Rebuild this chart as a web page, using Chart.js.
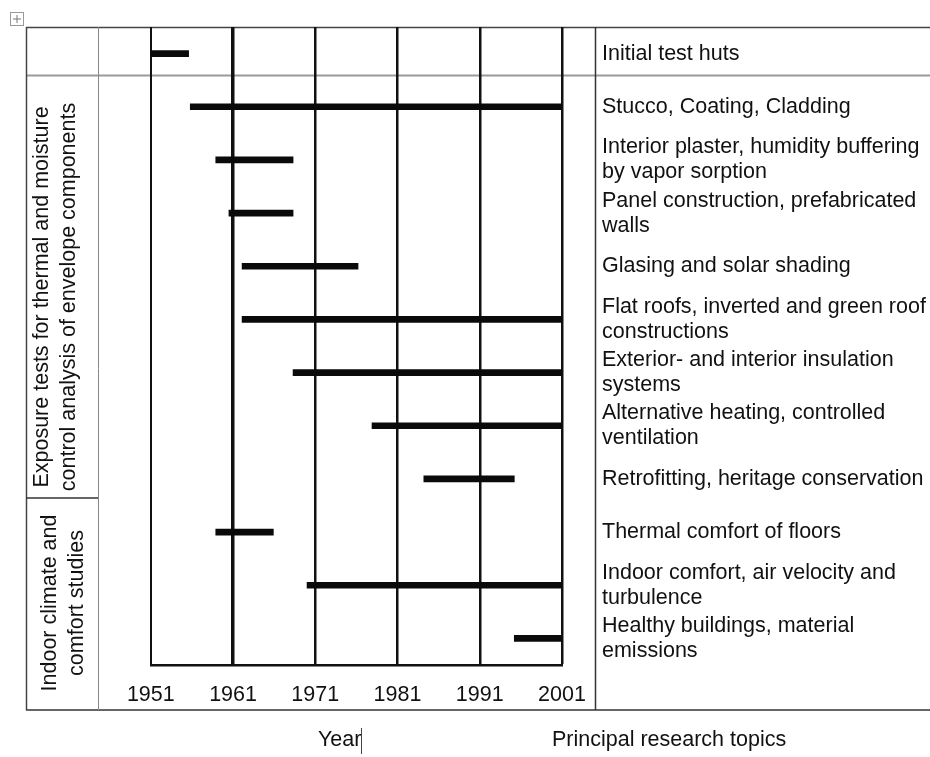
<!DOCTYPE html>
<html lang="en">

<head>
    <meta charset="UTF-8">
    <title>Research topics timeline</title>
    <!-- Chart.js -->
    <script src="https://cdn.jsdelivr.net/npm/chart.js"></script>
    <style>
        body { margin: 0; background: #fff; }
        #wrap { width: 930px; height: 757px; }
    </style>
</head>

<body>
    <div id="wrap">
        <canvas id="timeline" width="930" height="757"></canvas>
    </div>

    <script>
        // topics (one row each, multi-line labels)
        var topics = [
            ['Initial test huts'],
            ['Stucco, Coating, Cladding'],
            ['Interior plaster, humidity buffering', 'by vapor sorption'],
            ['Panel construction, prefabricated', 'walls'],
            ['Glasing and solar shading'],
            ['Flat roofs, inverted and green roof', 'constructions'],
            ['Exterior- and interior insulation', 'systems'],
            ['Alternative heating, controlled', 'ventilation'],
            ['Retrofitting, heritage conservation'],
            ['Thermal comfort of floors'],
            ['Indoor comfort, air velocity and', 'turbulence'],
            ['Healthy buildings, material', 'emissions']
        ];
        var startYears = [1951, 1955.8, 1958.9, 1960.5, 1962.1, 1962.1, 1968.3, 1977.9, 1984.2, 1958.9, 1970, 1995.2];
        var endYears = [1955.6, 2001, 1968.3, 1968.3, 1976.2, 2001, 2001, 2001, 1995.2, 1965.9, 2001, 2001];
        var tickYears = [1951, 1961, 1971, 1981, 1991, 2001];
        var tickLabels = ['1951', '1961', '1971', '1981', '1991', '2001'];
        var groupLabels = [
            ['Exposure tests for thermal and moisture', 'control analysis of envelope components'],
            ['Indoor climate and', 'comfort studies']
        ];
        var axisTitle = 'Year';
        var topicsTitle = 'Principal research topics';

        var FONT = '"Liberation Sans", Arial, sans-serif';
        var INK = '#111';

        // table frame drawn behind the chart
        var tableFrame = {
            id: 'tableFrame',
            beforeDraw: function (chart) {
                var c = chart.ctx;
                c.save();
                function line(x1, y1, x2, y2, col, w) {
                    c.strokeStyle = col;
                    c.lineWidth = w;
                    c.beginPath();
                    c.moveTo(x1, y1);
                    c.lineTo(x2, y2);
                    c.stroke();
                }
                line(26, 27.5, 930, 27.5, '#444', 1.5);   // top
                line(26, 75.5, 930, 75.5, '#9a9a9a', 2);  // under first row
                line(26, 710, 930, 710, '#333', 1.5);     // bottom
                line(26.5, 27, 26.5, 710, '#444', 1.5);   // left
                line(98.5, 27, 98.5, 710, '#888', 1);     // group column
                line(595.5, 27, 595.5, 710, '#333', 1.5); // topics column
                line(26, 498, 98, 498, '#333', 1.5);      // group split

                // little table handle in the corner
                c.strokeStyle = '#999';
                c.lineWidth = 1;
                c.strokeRect(10.5, 12.5, 13, 13);
                line(17, 15, 17, 23, '#777', 1);
                line(13, 19, 21, 19, '#777', 1);
                c.restore();
            },
            afterDraw: function (chart) {
                var c = chart.ctx;
                var yScale = chart.scales.y;
                c.save();
                c.fillStyle = INK;
                c.font = '21.5px ' + FONT;

                // topic labels in the right column
                c.textAlign = 'left';
                c.textBaseline = 'middle';
                chart.data.labels.forEach(function (lines, i) {
                    var yc = yScale.getPixelForTick(i);
                    lines.forEach(function (txt, j) {
                        c.fillText(txt, 602, yc + (j - (lines.length - 1) / 2) * 25);
                    });
                });

                // rotated group labels
                var groupPos = [[60, 297], [68, 603]];
                c.textAlign = 'center';
                c.textBaseline = 'alphabetic';
                groupLabels.forEach(function (lines, g) {
                    c.save();
                    c.translate(groupPos[g][0], groupPos[g][1]);
                    c.rotate(-Math.PI / 2);
                    lines.forEach(function (txt, j) {
                        c.fillText(txt, 0, (j - (lines.length - 1) / 2) * 27 + 1);
                    });
                    c.restore();
                });

                // titles under the table
                c.textAlign = 'left';
                c.fillText(axisTitle, 318, 746);
                c.fillText(topicsTitle, 552, 746);
                c.strokeStyle = '#444';
                c.lineWidth = 1;
                c.beginPath();
                c.moveTo(361.5, 728);
                c.lineTo(361.5, 754);
                c.stroke();
                c.restore();
            }
        };

        var ctx = document.getElementById('timeline').getContext('2d');
        var chart = new Chart(ctx, {
            type: 'bar',
            data: {
                labels: topics,
                datasets: [{
                    data: startYears.map(function (s, i) { return [s, endYears[i]]; }),
                    backgroundColor: '#0a0a0a',
                    borderWidth: 0,
                    borderSkipped: false,
                    barThickness: 6
                }]
            },
            options: {
                indexAxis: 'y',
                responsive: false,
                animation: false,
                layout: { padding: { top: 27, left: 150.8, right: 368, bottom: 52 } },
                plugins: { legend: { display: false }, tooltip: { enabled: false } },
                scales: {
                    y: { type: 'category', display: false, offset: true },
                    x: {
                        type: 'linear',
                        min: 1951,
                        max: 2001,
                        afterBuildTicks: function (s) {
                            s.ticks = tickYears.map(function (v) { return { value: v }; });
                        },
                        afterFit: function (s) { s.height = 40; },
                        ticks: {
                            padding: 17,
                            color: INK,
                            font: { family: FONT, size: 21.5 },
                            maxRotation: 0,
                            callback: function (v, i) { return tickLabels[i]; }
                        },
                        grid: {
                            color: INK,
                            drawTicks: false,
                            lineWidth: function (c) {
                                if (!c.tick) return 2.5;
                                if (c.tick.value === 1961) return 3.5;
                                if (c.tick.value === 1951) return 2;
                                return 2.5;
                            }
                        },
                        border: { display: true, color: INK, width: 2.5 }
                    }
                }
            },
            plugins: [tableFrame]
        });
    </script>
</body>

</html>
